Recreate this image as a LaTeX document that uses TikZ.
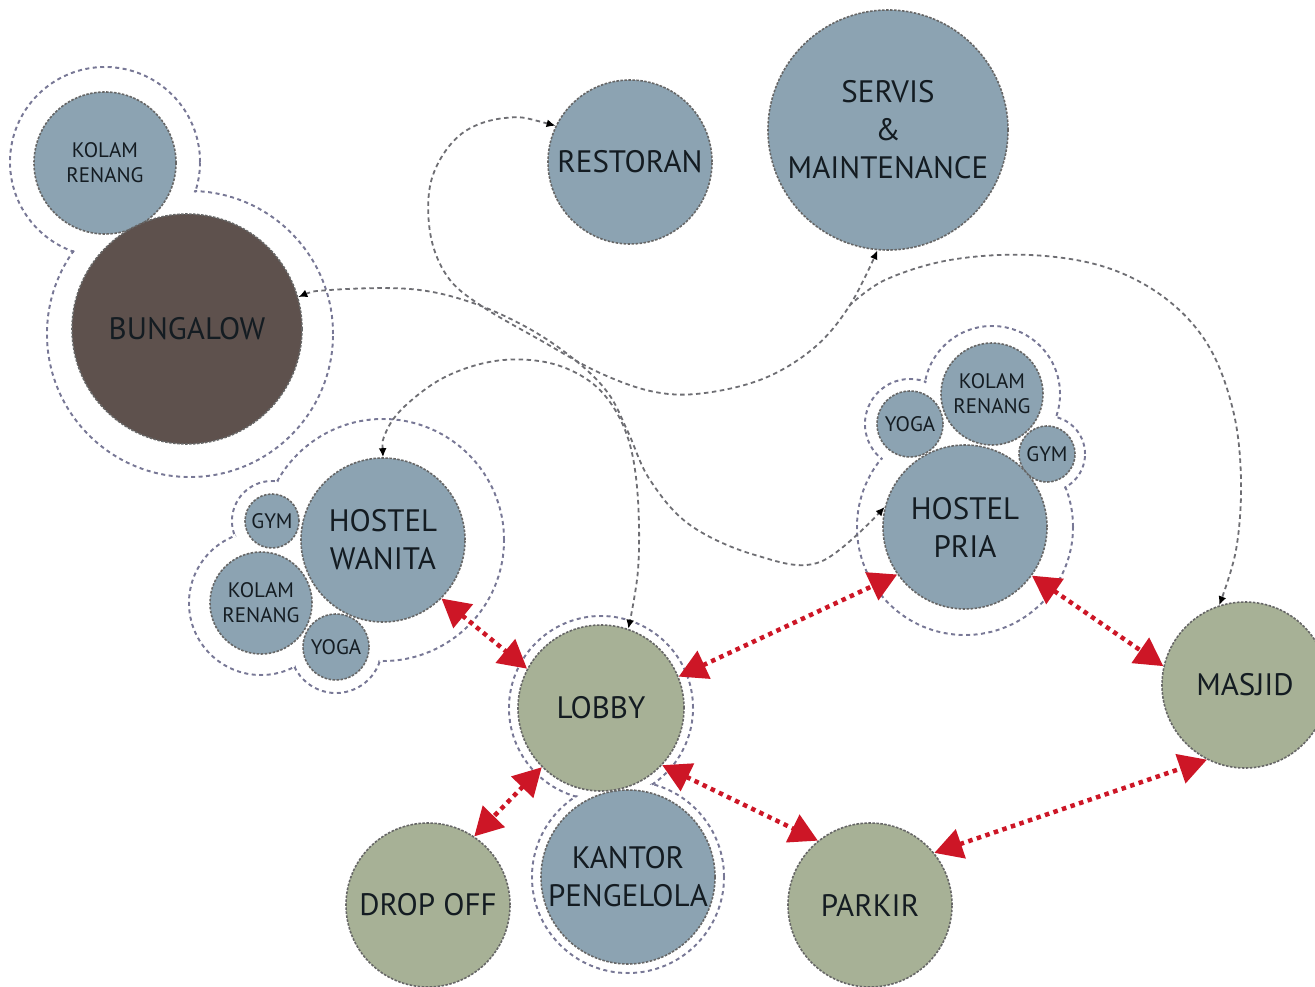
\documentclass[tikz,border=0pt]{standalone}
\usepackage{fontspec}
\setmainfont{PT Sans}
\usetikzlibrary{arrows.meta}
\definecolor{blueC}{RGB}{140,163,178}
\definecolor{greenC}{RGB}{167,177,150}
\definecolor{brownC}{RGB}{94,81,77}
\definecolor{ringC}{RGB}{120,120,150}
\definecolor{lineC}{RGB}{110,110,115}
\definecolor{redC}{RGB}{205,22,38}
\definecolor{textC}{RGB}{20,28,34}
\newcommand{\bigfont}{\fontsize{31}{38}\selectfont}
\newcommand{\smallfont}{\fontsize{21}{25}\selectfont}
\tikzset{
  room/.style={circle, inner sep=0pt, minimum size=#1, draw=black!60, dash pattern=on 2.5pt off 1.5pt, line width=1.6pt, text=textC, align=center, font=\bigfont},
  smallroom/.style={room=#1, font=\smallfont},
  bluefill/.style={fill=blueC},
  greenfill/.style={fill=greenC},
  brownfill/.style={fill=brownC},
  ring/.style={draw=ringC, line width=2pt, dash pattern=on 4pt off 3.5pt},
  conn/.style={draw=lineC, line width=1.8pt, dash pattern=on 4.5pt off 3.5pt, arrows={-}},
  tipS/.tip={Latex[length=9pt,width=8pt,black]},
  redarrow/.style={draw=redC, line width=4.5pt, dash pattern=on 4.5pt off 4.5pt,
    {Triangle[length=28pt,width=30pt,fill=redC]}-{Triangle[length=28pt,width=30pt,fill=redC]}}
}
\begin{document}
\begin{tikzpicture}[x=1pt,y=-1pt]
\clip (0,0) rectangle (1315,987);
\fill[white] (0,0) rectangle (1315,987);
% ---- group rings (union outlines)
\draw[ring] (105,162) circle[radius=95pt] (190,334) circle[radius=143pt];
\fill[white] (105,162) circle[radius=93.6pt] (190,334) circle[radius=141.6pt];
\draw[ring] (383,540) circle[radius=121pt] (272,521) circle[radius=40pt] (261,603) circle[radius=72pt] (336,647) circle[radius=46pt];
\fill[white] (383,540) circle[radius=119.6pt] (272,521) circle[radius=38.6pt] (261,603) circle[radius=70.6pt] (336,647) circle[radius=44.6pt];
\draw[ring] (965,527) circle[radius=108pt] (992,394) circle[radius=68pt] (910,424) circle[radius=45pt] (1047,454) circle[radius=38pt];
\fill[white] (965,527) circle[radius=106.6pt] (992,394) circle[radius=66.6pt] (910,424) circle[radius=43.6pt] (1047,454) circle[radius=36.6pt];
\draw[ring] (601,708) circle[radius=92pt] (628,877) circle[radius=96pt];
\fill[white] (601,708) circle[radius=90.6pt] (628,877) circle[radius=94.6pt];
% ---- rooms
\node[smallroom=142pt, bluefill] (kolamA) at (105,163) {KOLAM\\RENANG};
\node[room=230pt, brownfill] (bungalow) at (187,329) {BUNGALOW};
\node[room=164pt, bluefill] (restoran) at (630,162) {RESTORAN};
\node[room=240pt, bluefill] (servis) at (888,130) {SERVIS\\\&\\MAINTENANCE};
\node[room=164pt, bluefill] (hw) at (383,540) {HOSTEL\\WANITA};
\node[smallroom=54pt, bluefill] (gymW) at (272,521) {GYM};
\node[smallroom=102pt, bluefill] (kolamW) at (261,603) {KOLAM\\RENANG};
\node[smallroom=66pt, bluefill] (yogaW) at (336,647) {YOGA};
\node[smallroom=102pt, bluefill] (kolamP) at (992,394) {KOLAM\\RENANG};
\node[smallroom=66pt, bluefill] (yogaP) at (910,424) {YOGA};
\node[smallroom=56pt, bluefill] (gymP) at (1047,454) {GYM};
\node[room=164pt, bluefill] (hp) at (965,527) {HOSTEL\\PRIA};
\node[room=166pt, greenfill] (lobby) at (601,708) {LOBBY};
\node[room=174pt, bluefill] (kantor) at (628,877) {KANTOR\\PENGELOLA};
\node[room=164pt, greenfill] (dropoff) at (428,905) {DROP OFF};
\node[room=164pt, greenfill] (parkir) at (870,905) {PARKIR};
\node[room=166pt, greenfill] (masjid) at (1245,685) {MASJID};
% ---- gray connectors
\draw[conn, tipS-tipS] plot[smooth, tension=0.6] coordinates {(restoran.154) (505,118) (460,135) (432,178) (430,232) (447,276) (480,305) (540,340) (600,373) (655,392) (705,393) (765,378) (815,347) (850,305) (servis.-95)};
\coordinate (sm) at (849,306);
\draw[conn, -tipS] plot[smooth, tension=0.6] coordinates {(sm) (885,280) (950,260) (1030,255) (1105,267) (1165,298) (1208,345) (1233,410) (1241,480) (1236,550) (masjid.108)};
\draw[conn, tipS-tipS] plot[smooth, tension=0.6] coordinates {(bungalow.16) (330,290) (410,289) (470,302) (528,328) (575,360) (608,393) (628,432) (650,480) (690,525) (755,555) (820,562) (hp.166)};
\draw[conn, tipS-tipS] plot[smooth, tension=0.6] coordinates {(hw.90) (386,432) (405,406) (445,377) (495,361) (545,362) (585,378) (612,405) (630,445) (638,500) (638,570) (lobby.71)};
% ---- red links
\draw[redarrow] (hw.-45) -- (lobby.152);
\draw[redarrow] (lobby.22) -- (hp.-145);
\draw[redarrow] (hp.-36) -- (masjid.167);
\draw[redarrow] (lobby.-135) -- (dropoff.56);
\draw[redarrow] (lobby.-43) -- (parkir.129);
\draw[redarrow] (parkir.39) -- (masjid.-117);
\end{tikzpicture}
\end{document}
